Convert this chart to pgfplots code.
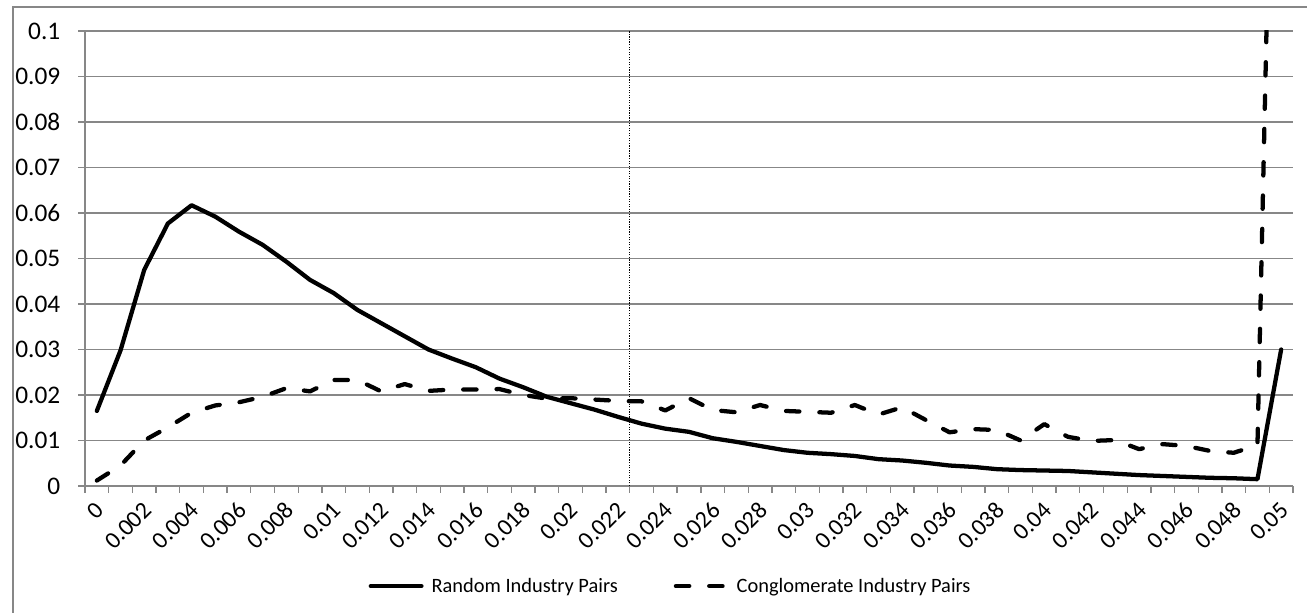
\documentclass[border=0pt]{standalone}
\usepackage{pgfplots}
\pgfplotsset{compat=1.18}
\usepackage{pgfplotstable}
\usepackage{fontspec}
\setmainfont{Carlito}
\definecolor{gridgray}{HTML}{878787}

\pgfplotstableread{
i random conglomerate
0 0.0165 0.0012
1 0.0298 0.0045
2 0.0475 0.0100
3 0.0577 0.0129
4 0.0617 0.0161
5 0.0592 0.0177
6 0.0559 0.0184
7 0.0530 0.0196
8 0.0493 0.0215
9 0.0453 0.0208
10 0.0424 0.0233
11 0.0387 0.0233
12 0.0358 0.0208
13 0.0329 0.0224
14 0.0300 0.0209
15 0.0280 0.0212
16 0.0261 0.0212
17 0.0236 0.0213
18 0.0217 0.0200
19 0.0196 0.0192
20 0.0182 0.0193
21 0.0168 0.0190
22 0.0152 0.0187
23 0.0137 0.0186
24 0.0126 0.0166
25 0.0119 0.0193
26 0.0105 0.0167
27 0.0097 0.0162
28 0.0088 0.0178
29 0.0079 0.0165
30 0.0073 0.0163
31 0.0070 0.0161
32 0.0066 0.0178
33 0.0059 0.0157
34 0.0056 0.0173
35 0.0051 0.0145
36 0.0045 0.0118
37 0.0042 0.0125
38 0.0037 0.0123
39 0.0035 0.0100
40 0.0034 0.0136
41 0.0033 0.0108
42 0.0030 0.0099
43 0.0027 0.0101
44 0.0024 0.0081
45 0.0022 0.0092
46 0.0020 0.0088
47 0.0018 0.0077
48 0.0017 0.0073
49 0.0015 0.0090
50 0.0300 0.2480
}\datatable

\pgfplotstableread{
x y
22.5 0
22.5 0.1
}\refline

\begin{document}
\begin{tikzpicture}
\path[use as bounding box] (-63.75pt,-95.25pt) rectangle (916.5pt,364.5pt);
\draw[gridgray, line width=1pt] (-54pt,-95.25pt) -- (-54pt,359.25pt) -- (916.5pt,359.25pt);
\begin{axis}[
  scale only axis,
  width=906pt, height=341.25pt,
  xmin=-0.5, xmax=50.5,
  ymin=0, ymax=0.1,
  clip=true,
  axis x line*=bottom, axis y line*=left,
  axis line style={draw=gridgray, line width=1pt, -},
  ytick={0,0.01,0.02,0.03,0.04,0.05,0.06,0.07,0.08,0.09,0.1},
  yticklabels={0,0.01,0.02,0.03,0.04,0.05,0.06,0.07,0.08,0.09,0.1},
  xtick={0,2,...,50},
  xticklabels={0,0.002,0.004,0.006,0.008,0.01,0.012,0.014,0.016,0.018,0.02,0.022,0.024,0.026,0.028,0.03,0.032,0.034,0.036,0.038,0.04,0.042,0.044,0.046,0.048,0.05},
  minor xtick={-0.5,0.5,...,50.5},
  tick align=outside,
  major x tick style={draw=none},
  minor x tick style={draw=gridgray, line width=1pt},
  minor tick length=5pt,
  major tick length=5pt,
  y tick style={draw=gridgray, line width=1pt},
  ymajorgrids=true,
  grid style={draw=gridgray, line width=1pt},
  tick label style={text=black},
  /pgf/number format/assume math mode=true,
  yticklabel style={font=\fontsize{19}{22}\selectfont, xshift=-10pt},
  xticklabel style={font=\fontsize{18}{21}\selectfont, rotate=45, anchor=east, yshift=-9pt, xshift=-2pt},
  legend columns=2,
  legend style={at={(0.485,-0.22)}, anchor=center, draw=none, fill=none,
    font=\fontsize{15.3}{18}\selectfont,
    /tikz/every even column/.append style={column sep=40pt}},
  legend image code/.code={\draw[#1] (0pt,0pt) -- (38pt,0pt); \path (42pt,0pt);},
]
\addplot[black, line width=3.2pt, line cap=round, line join=round] table[x=i, y=random] {\datatable};
\addlegendentry{Random Industry Pairs}
\addplot[black, line width=3.2pt, line cap=round, line join=round, dash pattern=on 10pt off 15pt] table[x=i, y=conglomerate] {\datatable};
\addlegendentry{Conglomerate Industry Pairs}
\addplot[black, line width=0.9pt, densely dotted, forget plot] table[x=x, y=y] {\refline};
\end{axis}
\end{tikzpicture}
\end{document}
